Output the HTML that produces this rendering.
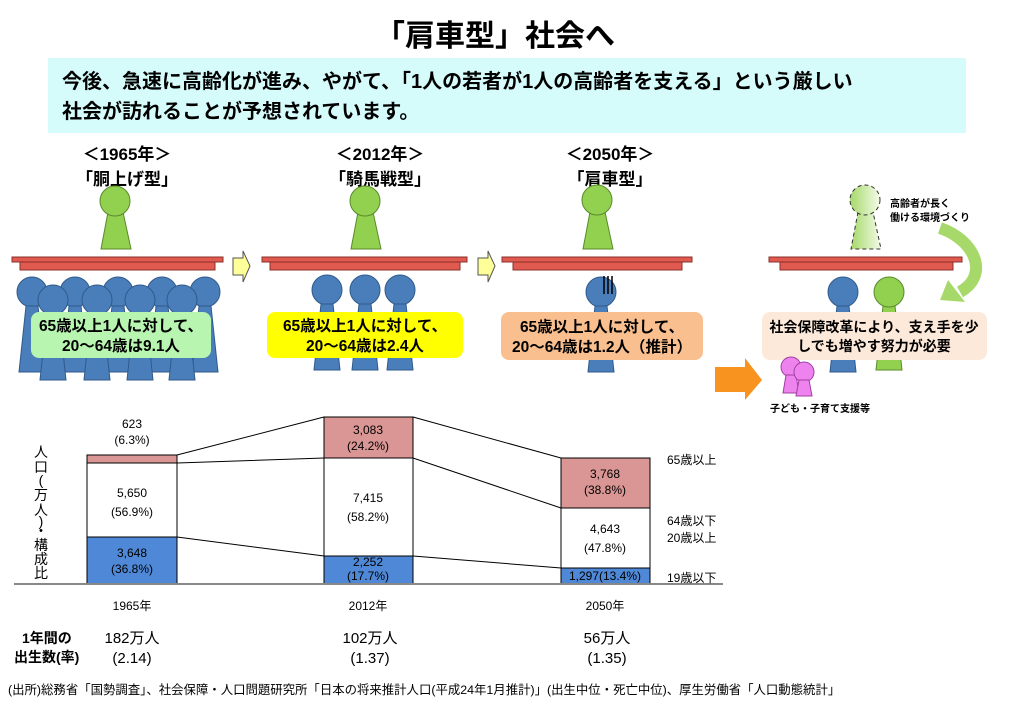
<!DOCTYPE html>
<html><head><meta charset="utf-8"><style>
body{margin:0;background:#fff;}
svg{display:block;font-family:"Liberation Sans","Noto Sans CJK JP",sans-serif;}
</style></head><body>
<svg width="1016" height="727" viewBox="0 0 1016 727" xmlns="http://www.w3.org/2000/svg">
<defs>
<g id="blue"><circle cx="0" cy="0" r="15" fill="#4a7ebb" stroke="#2f5a8a" stroke-width="1"/><path d="M-6 14 L-13 80 L13 80 L6 14Z" fill="#4a7ebb" stroke="#2f5a8a"/></g>
<linearGradient id="fade" x1="0" x2="1"><stop offset="0" stop-color="#a6d96a"/><stop offset="1" stop-color="#f4fbe8"/></linearGradient>
</defs>
<text x="495" y="46" font-size="30" font-weight="bold" text-anchor="middle">「肩車型」社会へ</text>
<rect x="48" y="58" width="918" height="75" fill="#d6fbfb"/>
<text x="62" y="88" font-size="20" font-weight="bold">今後、急速に高齢化が進み、やがて、「1人の若者が1人の高齢者を支える」という厳しい</text>
<text x="62" y="118" font-size="20" font-weight="bold">社会が訪れることが予想されています。</text>

<g font-size="17" font-weight="bold" text-anchor="middle">
<text x="127" y="160">＜1965年＞</text><text x="127" y="185">「胴上げ型」</text>
<text x="380" y="160">＜2012年＞</text><text x="380" y="185">「騎馬戦型」</text>
<text x="610" y="160">＜2050年＞</text><text x="610" y="185">「肩車型」</text>
</g>

<g fill="#92d050" stroke="#5a8a2a">
<path d="M108 212 L101 249 L131 249 L123 212Z"/><circle cx="115" cy="201" r="15"/>
<path d="M358 212 L351 249 L381 249 L373 212Z"/><circle cx="365" cy="201" r="15"/>
<path d="M590 212 L583 249 L613 249 L605 212Z"/><circle cx="597" cy="200" r="15"/>
</g>
<g fill="url(#fade)" stroke="#333" stroke-dasharray="4,3">
<path d="M858 212 L851 249 L881 249 L873 212Z"/><circle cx="865" cy="200" r="15"/>
</g>
<text x="890" y="207" font-size="10" font-weight="bold">高齢者が長く</text>
<text x="890" y="221" font-size="10" font-weight="bold">働ける環境づくり</text>
<path d="M940 228 C975 240 990 275 960 292" fill="none" stroke="#a6d96a" stroke-width="12"/>
<path d="M948 280 L965 302 L940 300Z" fill="#a6d96a"/>

<g fill="#e05a50" stroke="#8a3028" stroke-width="1">
<rect x="12" y="257" width="211" height="5"/><rect x="20" y="262" width="195" height="8"/>
<rect x="262" y="257" width="205" height="5"/><rect x="270" y="262" width="190" height="8"/>
<rect x="502" y="257" width="190" height="5"/><rect x="513" y="262" width="169" height="8"/>
<rect x="769" y="257" width="193" height="5"/><rect x="780" y="262" width="173" height="8"/>
</g>
<g fill="#ffff99" stroke="#555">
<path d="M233 258 L243 258 L243 251 L250 266 L243 282 L243 275 L233 275Z"/>
<path d="M478 258 L488 258 L488 251 L495 266 L488 282 L488 275 L478 275Z"/>
</g>
<use href="#blue" x="32" y="292"/><use href="#blue" x="75" y="292"/><use href="#blue" x="118" y="292"/><use href="#blue" x="162" y="292"/><use href="#blue" x="205" y="292"/>
<use href="#blue" x="53" y="300"/><use href="#blue" x="97" y="300"/><use href="#blue" x="140" y="300"/><use href="#blue" x="182" y="300"/>
<rect x="31" y="312" width="180" height="46" rx="8" fill="#b8f5b0"/>
<g font-size="15.5" font-weight="bold" text-anchor="middle">
<text x="121" y="331">65歳以上1人に対して、</text><text x="121" y="351">20～64歳は9.1人</text></g>
<use href="#blue" x="327" y="290"/><use href="#blue" x="365" y="290"/><use href="#blue" x="400" y="290"/>
<rect x="267" y="312" width="196" height="46" rx="8" fill="#ffff00"/>
<g font-size="15.5" font-weight="bold" text-anchor="middle">
<text x="365" y="331">65歳以上1人に対して、</text><text x="365" y="351">20～64歳は2.4人</text></g>
<use href="#blue" x="601" y="292"/>
<path d="M604 276v18M608 276v18M612 276v18" stroke="#000" stroke-width="1.5"/>
<rect x="501" y="312" width="202" height="48" rx="8" fill="#f9bf8f"/>
<g font-size="15.5" font-weight="bold" text-anchor="middle">
<text x="602" y="332">65歳以上1人に対して、</text><text x="602" y="352">20～64歳は1.2人（推計）</text></g>
<use href="#blue" x="843" y="292"/>
<g fill="#92d050" stroke="#5a8a2a"><path d="M883 306 L876 370 L902 370 L895 306Z"/><circle cx="889" cy="292" r="15"/></g>
<rect x="762" y="312" width="225" height="48" rx="8" fill="#fde9d9"/>
<g font-size="14" font-weight="bold" text-anchor="middle">
<text x="874" y="332">社会保障改革により、支え手を少</text><text x="874" y="351">しでも増やす努力が必要</text></g>
<path d="M715 367 L745 367 L745 358 L762 380 L745 400 L745 392 L715 392Z" fill="#f7931e"/>
<g fill="#ee82ee" stroke="#a040a0">
<circle cx="791" cy="367" r="10"/><path d="M786 375 L783 393 L799 393 L796 375Z"/>
<circle cx="804" cy="372" r="10"/><path d="M799 380 L796 396 L812 396 L809 380Z"/>
</g>
<text x="770" y="412" font-size="10" font-weight="bold">子ども・子育て支援等</text>

<g stroke="#000" stroke-width="1">
<rect x="87" y="455" width="90" height="8" fill="#d99694"/>
<rect x="87" y="463" width="90" height="74" fill="#fff"/>
<rect x="87" y="537" width="90" height="47" fill="#4f88d6"/>
<rect x="324" y="417" width="89" height="41" fill="#d99694"/>
<rect x="324" y="458" width="89" height="98" fill="#fff"/>
<rect x="324" y="556" width="89" height="28" fill="#4f88d6"/>
<rect x="561" y="458" width="89" height="50" fill="#d99694"/>
<rect x="561" y="508" width="89" height="60" fill="#fff"/>
<rect x="561" y="568" width="89" height="16" fill="#4f88d6"/>
<path d="M177 455 L324 417 M177 463 L324 458 M177 537 L324 556 M413 417 L561 458 M413 458 L561 508 M413 556 L561 568" fill="none"/>
</g>
<line x1="14" y1="584" x2="723" y2="584" stroke="#888" stroke-width="2"/>
<g font-size="12" text-anchor="middle">
<text x="132" y="428">623</text><text x="132" y="444">(6.3%)</text>
<text x="132" y="497">5,650</text><text x="132" y="516">(56.9%)</text>
<text x="132" y="557">3,648</text><text x="132" y="573">(36.8%)</text>
<text x="368" y="434">3,083</text><text x="368" y="450">(24.2%)</text>
<text x="368" y="502">7,415</text><text x="368" y="521">(58.2%)</text>
<text x="368" y="566">2,252</text><text x="368" y="580">(17.7%)</text>
<text x="605" y="478">3,768</text><text x="605" y="494">(38.8%)</text>
<text x="605" y="533">4,643</text><text x="605" y="552">(47.8%)</text>
<text x="605" y="580">1,297(13.4%)</text>
<text x="132" y="610">1965年</text><text x="368" y="610">2012年</text><text x="605" y="610">2050年</text>
</g>
<g font-size="12">
<text x="667" y="464">65歳以上</text><text x="667" y="525">64歳以下</text><text x="667" y="542">20歳以上</text><text x="667" y="582">19歳以下</text>
</g>
<g font-size="14" text-anchor="middle">
<text x="41" y="457">人</text><text x="41" y="472">口</text><text x="41" y="485">(</text><text x="41" y="500">万</text><text x="41" y="515">人</text><text x="41" y="526">)</text><text x="41" y="536">・</text><text x="41" y="550">構</text><text x="41" y="564">成</text><text x="41" y="578">比</text>
</g>
<text x="22" y="643" font-size="14" font-weight="bold">1年間の</text>
<text x="14" y="662" font-size="14" font-weight="bold">出生数(率)</text>
<g font-size="15" text-anchor="middle">
<text x="132" y="643">182万人</text><text x="132" y="663">(2.14)</text>
<text x="370" y="643">102万人</text><text x="370" y="663">(1.37)</text>
<text x="607" y="643">56万人</text><text x="607" y="663">(1.35)</text>
</g>
<text x="8" y="694" font-size="12.4">(出所)総務省「国勢調査」、社会保障・人口問題研究所「日本の将来推計人口(平成24年1月推計)」(出生中位・死亡中位)、厚生労働省「人口動態統計」</text>
</svg>
</body></html>
